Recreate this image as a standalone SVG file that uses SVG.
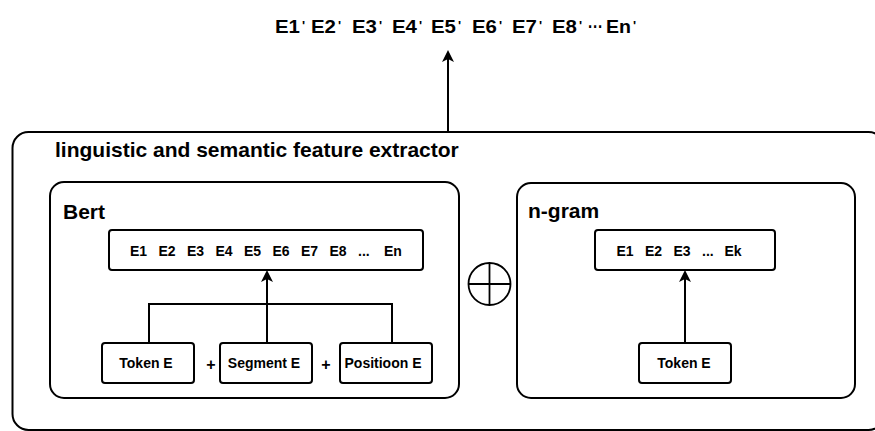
<svg xmlns="http://www.w3.org/2000/svg" width="875" height="431" viewBox="0 0 875 431">
  <style>
    .box { fill: #fff; stroke: #000; stroke-width: 2; }
    .wire { fill: none; stroke: #000; stroke-width: 2; }
    .arrow { fill: none; stroke: #000; stroke-width: 2; marker-end: url(#head); }
    text { font-family: "Liberation Sans", Arial, sans-serif; font-weight: bold; fill: #000; }
    .title { font-size: 21px; }
    .lbl { font-size: 14px; }
    .mid { text-anchor: middle; }
    .out { font-size: 18px; }
    .prime { font-size: 13px; }
  </style>
  <defs>
    <marker id="head" viewBox="0 0 12 12" refX="8" refY="6" markerWidth="12" markerHeight="12" markerUnits="userSpaceOnUse" orient="auto">
      <path d="M0,0 L12,6 L0,12 L3,6 Z" fill="#000"/>
    </marker>
  </defs>

  <!-- output embedding sequence -->
  <g id="output">
    <text class="out" x="275" y="33" textLength="25" lengthAdjust="spacingAndGlyphs">E1</text>
    <text class="prime" x="302" y="30">'</text>
    <text class="out" x="311" y="33" textLength="25" lengthAdjust="spacingAndGlyphs">E2</text>
    <text class="prime" x="338" y="30">'</text>
    <text class="out" x="352" y="33" textLength="25" lengthAdjust="spacingAndGlyphs">E3</text>
    <text class="prime" x="379" y="30">'</text>
    <text class="out" x="392" y="33" textLength="25" lengthAdjust="spacingAndGlyphs">E4</text>
    <text class="prime" x="419" y="30">'</text>
    <text class="out" x="431" y="33" textLength="25" lengthAdjust="spacingAndGlyphs">E5</text>
    <text class="prime" x="458" y="30">'</text>
    <text class="out" x="472" y="33" textLength="25" lengthAdjust="spacingAndGlyphs">E6</text>
    <text class="prime" x="499" y="30">'</text>
    <text class="out" x="512" y="33" textLength="25" lengthAdjust="spacingAndGlyphs">E7</text>
    <text class="prime" x="539" y="30">'</text>
    <text class="out" x="552" y="33" textLength="25" lengthAdjust="spacingAndGlyphs">E8</text>
    <text class="prime" x="579" y="30">'</text>
    <text class="out" x="588" y="33" textLength="15" lengthAdjust="spacingAndGlyphs">···</text>
    <text class="out" x="606" y="33" textLength="25" lengthAdjust="spacingAndGlyphs">En</text>
    <text class="prime" x="633" y="30">'</text>
  </g>

  <!-- outer container -->
  <g id="extractor">
    <rect class="box" x="12.5" y="132" width="872" height="298" rx="16"/>
    <text class="title" x="55" y="157">linguistic and semantic feature extractor</text>
  </g>

  <!-- Bert branch -->
  <g id="bert">
    <rect class="box" x="50" y="182" width="409" height="216" rx="14"/>
    <text class="title" x="63" y="219">Bert</text>
  </g>
  <g id="bert-seq">
    <rect class="box" x="109" y="230" width="314" height="40" rx="3"/>
    <text class="lbl" y="256">
      <tspan x="130">E1</tspan><tspan x="158.5">E2</tspan><tspan x="187">E3</tspan><tspan x="215.5">E4</tspan><tspan x="244">E5</tspan><tspan x="272.5">E6</tspan><tspan x="301">E7</tspan><tspan x="329.5">E8</tspan><tspan x="358">...</tspan><tspan x="384">En</tspan>
    </text>
  </g>
  <g id="token-e">
    <rect class="box" x="102" y="343" width="92" height="40" rx="3"/>
    <text class="lbl mid" x="146" y="368">Token E</text>
  </g>
  <g id="segment-e">
    <rect class="box" x="220" y="343" width="92" height="40" rx="3"/>
    <text class="lbl mid" x="264" y="368">Segment E</text>
  </g>
  <g id="position-e">
    <rect class="box" x="340" y="343" width="92" height="40" rx="3"/>
    <text class="lbl mid" x="383" y="368">Positioon E</text>
  </g>
  <g id="plus-signs">
    <text class="lbl mid" x="211" y="370" style="font-size:16px">+</text>
    <text class="lbl mid" x="326" y="370" style="font-size:16px">+</text>
  </g>

  <!-- combination operator -->
  <g id="concat">
    <circle cx="489.5" cy="284" r="21" fill="none" stroke="#000" stroke-width="1.8"/>
    <line x1="468.5" y1="284" x2="510.5" y2="284" stroke="#000" stroke-width="1.8"/>
    <line x1="489.5" y1="263" x2="489.5" y2="305" stroke="#000" stroke-width="1.8"/>
  </g>

  <!-- n-gram branch -->
  <g id="ngram">
    <rect class="box" x="517" y="183" width="338" height="215" rx="14"/>
    <text class="title" x="528" y="218">n-gram</text>
  </g>
  <g id="ngram-seq">
    <rect class="box" x="595" y="230" width="180" height="40" rx="3"/>
    <text class="lbl" y="256">
      <tspan x="616.5">E1</tspan><tspan x="645">E2</tspan><tspan x="673.5">E3</tspan><tspan x="702">...</tspan><tspan x="724.5">Ek</tspan>
    </text>
  </g>
  <g id="ngram-token-e">
    <rect class="box" x="639" y="343" width="92" height="40" rx="3"/>
    <text class="lbl mid" x="684" y="368">Token E</text>
  </g>

  <!-- connectors -->
  <g id="connectors">
    <polyline class="wire" points="149,343 149,304 392,304 392,343"/>
    <line class="arrow" x1="267" y1="343" x2="267" y2="274"/>
    <line class="arrow" x1="685" y1="343" x2="685" y2="274"/>
    <line class="arrow" x1="448" y1="132" x2="448" y2="54"/>
  </g>
</svg>
